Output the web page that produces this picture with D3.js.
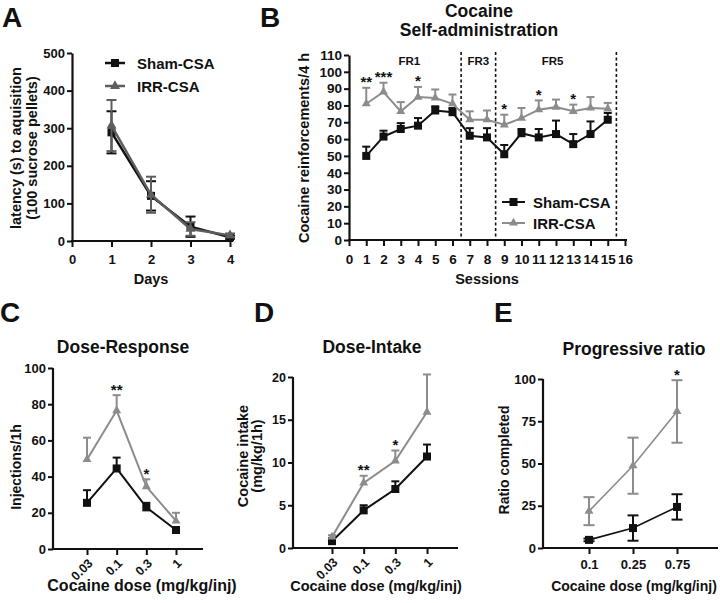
<!DOCTYPE html>
<html><head><meta charset="utf-8">
<script src="https://cdn.jsdelivr.net/npm/d3@7"></script>
<style>
body{margin:0;background:#fff;}
svg{display:block;}
</style></head><body>
<svg id="c" width="720" height="603"></svg>
<script>
// ---------------- DATA ----------------
// Panel A
const daysA = [1, 2, 3, 4];
const shamA = [289, 120, 38, 10];
const shamAsem = [56, 39, 27, 4];
const irrA = [307, 123, 32, 15];
const irrAsem = [68, 48, 18, 5];
const ticksAx = [0, 1, 2, 3, 4];
const ticksAy = [0, 100, 200, 300, 400, 500];

// Panel B
const sessionsB = [1, 2, 3, 4, 5, 6, 7, 8, 9, 10, 11, 12, 13, 14, 15];
const irrB = [81, 88, 76.5, 85, 84.5, 81, 71.5, 71.5, 68.5, 72.5, 77.5, 79, 76.5, 78.5, 78];
const irrBsem = [9.5, 5.5, 5.5, 6, 5, 5.5, 5, 5.5, 6, 6, 5.5, 4.5, 4, 6.5, 3.5];
const shamB = [50, 61.5, 66, 68, 77, 76, 62, 61, 51, 63.5, 61, 63, 57, 63, 71.5];
const shamBsem = [5.5, 3.5, 3.5, 4.5, 2.5, 2.5, 4.5, 5.5, 5.5, 2.5, 5, 8, 6, 7.5, 4];
const ticksBx = [0, 1, 2, 3, 4, 5, 6, 7, 8, 9, 10, 11, 12, 13, 14, 15, 16];
const ticksBy = [0, 10, 20, 30, 40, 50, 60, 70, 80, 90, 100, 110];
const phaseBounds = [6.5, 8.5, 15.5];
const phaseLabels = ["FR1", "FR3", "FR5"];
const phaseLabelAt = [3.5, 7.5, 11.8];
const starsBsession = [1, 2, 4, 9, 11, 13];
const starsBtext = ["**", "***", "*", "*", "*", "*"];

// Panel C
const dosesCD = ["0.03", "0.1", "0.3", "1"];
const irrC = [49.5, 76.5, 34.5, 15.5];
const irrCsem = [12, 8.5, 4, 4.5];
const shamC = [25.5, 44.5, 23, 10.5];
const shamCsem = [7, 6, 2.5, 1.5];
const ticksCy = [0, 20, 40, 60, 80, 100];
const starsC = ["", "**", "*", ""];

// Panel D
const irrD = [1.3, 7.6, 10.2, 15.9];
const irrDsem = [0.2, 0.85, 1.2, 4.4];
const shamD = [0.8, 4.4, 6.9, 10.7];
const shamDsem = [0.15, 0.6, 0.9, 1.4];
const ticksDy = [0, 5, 10, 15, 20];
const starsD = ["", "**", "*", ""];

// Panel E
const dosesE = ["0.1", "0.25", "0.75"];
const irrE = [21.8, 48.7, 80.8];
const irrEsem = [8.3, 16.6, 18.5];
const shamE = [4.8, 11.8, 24.3];
const shamEsem = [0.8, 7.5, 7.5];
const ticksEy = [0, 25, 50, 75, 100];
const starsE = ["", "", "*"];

// ---------------- DRAWING ----------------
const FONT = '"Liberation Sans", Arial, Helvetica, sans-serif';
const BLACK = "#111111";
const GRAY = "#8c8c8c";
const GRAY_A = "#5e5e5e";
const svg = d3.select("#c").attr("font-family", FONT);

function txt(g, x, y, s, size, o = {}) {
  const t = g.append("text").attr("x", x).attr("y", y).text(s)
    .attr("font-size", size).attr("font-weight", "bold").attr("fill", BLACK)
    .attr("font-family", FONT)
    .attr("text-anchor", o.anchor || "start");
  if (o.rotate) t.attr("transform", `rotate(${o.rotate},${x},${y})`);
  return t;
}

function styleAxis(g, fs) {
  g.attr("font-family", FONT).attr("font-size", fs).attr("font-weight", "bold");
  g.selectAll(".domain").attr("stroke", BLACK).attr("stroke-width", 2.2);
  g.selectAll(".tick line").attr("stroke", BLACK).attr("stroke-width", 2);
  g.selectAll(".tick text").attr("fill", BLACK);
}

function marker(g, x, y, type, size, color) {
  if (type === "square") {
    g.append("rect").attr("x", x - size / 2).attr("y", y - size / 2)
      .attr("width", size).attr("height", size).attr("fill", color);
  } else {
    const area = size * size * Math.sqrt(3) / 4;
    g.append("path").attr("d", d3.symbol(d3.symbolTriangle, area)())
      .attr("transform", `translate(${x},${y})`).attr("fill", color);
  }
}

function series(g, xs, ys, sems, xS, yS, o) {
  const pts = xs.map((x, i) => ({
    x: xS(x), y: yS(ys[i]),
    top: yS(ys[i] + sems[i]), bot: yS(Math.max(0, ys[i] - sems[i]))
  }));
  pts.forEach(p => {
    g.append("line").attr("x1", p.x).attr("x2", p.x)
      .attr("y1", p.top).attr("y2", o.both ? p.bot : p.y)
      .attr("stroke", o.color).attr("stroke-width", o.ew);
    g.append("line").attr("x1", p.x - o.cap / 2).attr("x2", p.x + o.cap / 2)
      .attr("y1", p.top).attr("y2", p.top)
      .attr("stroke", o.color).attr("stroke-width", o.ew);
    if (o.both) {
      g.append("line").attr("x1", p.x - o.cap / 2).attr("x2", p.x + o.cap / 2)
        .attr("y1", p.bot).attr("y2", p.bot)
        .attr("stroke", o.color).attr("stroke-width", o.ew);
    }
  });
  g.append("path").attr("d", d3.line().x(p => p.x).y(p => p.y)(pts))
    .attr("fill", "none").attr("stroke", o.color).attr("stroke-width", o.lw);
  pts.forEach(p => marker(g, p.x, p.y, o.marker, o.ms, o.color));
  return pts;
}

function stars(g, pts, labels) {
  pts.forEach((p, i) => {
    if (labels[i]) txt(g, p.x, p.top - 0.5, labels[i], 15, { anchor: "middle" });
  });
}

// ===== Panel A =====
{
  const g = svg.append("g");
  const x = d3.scaleLinear().domain([0, 4]).range([72, 230]);
  const y = d3.scaleLinear().domain([0, 500]).range([241, 53]);
  const ya = g.append("g").attr("transform", `translate(72,0)`)
    .call(d3.axisLeft(y).tickValues(ticksAy).tickFormat(d3.format("d")).tickSize(5).tickPadding(2).tickSizeOuter(0));
  styleAxis(ya, 13);
  const xa = g.append("g").attr("transform", `translate(0,241)`)
    .call(d3.axisBottom(x).tickValues(ticksAx).tickFormat(d3.format("d")).tickSize(6).tickPadding(8).tickSizeOuter(0));
  styleAxis(xa, 13);
  xa.select(".domain").attr("d", "M71,0H233");
  series(g, daysA, shamA, shamAsem, x, y, { color: BLACK, marker: "square", ms: 8, lw: 2.5, ew: 2, cap: 10, both: true });
  series(g, daysA, irrA, irrAsem, x, y, { color: GRAY_A, marker: "triangle", ms: 10, lw: 2.5, ew: 2, cap: 10, both: true });
  // legend
  g.append("line").attr("x1", 105).attr("x2", 125).attr("y1", 63).attr("y2", 63).attr("stroke", BLACK).attr("stroke-width", 2.5);
  marker(g, 115, 63, "square", 8, BLACK);
  txt(g, 137, 69, "Sham-CSA", 15);
  g.append("line").attr("x1", 105).attr("x2", 125).attr("y1", 86).attr("y2", 86).attr("stroke", GRAY_A).attr("stroke-width", 2.5);
  marker(g, 115, 86, "triangle", 10, GRAY_A);
  txt(g, 137, 92, "IRR-CSA", 15);
  // labels
  txt(g, 21, 148, "latency (s) to aquisition", 14.5, { anchor: "middle", rotate: -90 });
  txt(g, 37, 148, "(100 sucrose pellets)", 14.5, { anchor: "middle", rotate: -90 });
  txt(g, 151, 284, "Days", 14.5, { anchor: "middle" });
  txt(g, 2, 27, "A", 28);
}

// ===== Panel B =====
{
  const g = svg.append("g");
  const x = d3.scaleLinear().domain([0, 16]).range([349, 625]);
  const y = d3.scaleLinear().domain([0, 110]).range([240, 55]);
  phaseBounds.forEach(b => {
    g.append("line").attr("x1", x(b)).attr("x2", x(b)).attr("y1", 52).attr("y2", 240)
      .attr("stroke", BLACK).attr("stroke-width", 1.6).attr("stroke-dasharray", "3,2.5");
  });
  phaseLabels.forEach((l, i) => txt(g, x(phaseLabelAt[i]), 65, l, 11.5, { anchor: "middle" }));
  const ya = g.append("g").attr("transform", `translate(349,0)`)
    .call(d3.axisLeft(y).tickValues(ticksBy).tickSize(5).tickPadding(2).tickSizeOuter(0));
  styleAxis(ya, 13.5);
  const xa = g.append("g").attr("transform", `translate(0,240)`)
    .call(d3.axisBottom(x).tickValues(ticksBx).tickSize(6).tickPadding(8).tickSizeOuter(0));
  styleAxis(xa, 13.5);
  xa.select(".domain").attr("d", "M348,0H627");
  series(g, sessionsB, shamB, shamBsem, x, y, { color: BLACK, marker: "square", ms: 8, lw: 2, ew: 2, cap: 8, both: false });
  const ip = series(g, sessionsB, irrB, irrBsem, x, y, { color: GRAY, marker: "triangle", ms: 9, lw: 2, ew: 2, cap: 8, both: false });
  starsBsession.forEach((s, i) => {
    const p = ip[sessionsB.indexOf(s)];
    txt(g, p.x, p.top - 0.5, starsBtext[i], 15, { anchor: "middle" });
  });
  // legend
  g.append("line").attr("x1", 502).attr("x2", 525).attr("y1", 202).attr("y2", 202).attr("stroke", BLACK).attr("stroke-width", 2);
  marker(g, 513.5, 202, "square", 8, BLACK);
  txt(g, 533, 208, "Sham-CSA", 15);
  g.append("line").attr("x1", 502).attr("x2", 525).attr("y1", 223).attr("y2", 223).attr("stroke", GRAY).attr("stroke-width", 2);
  marker(g, 513.5, 223, "triangle", 9, GRAY);
  txt(g, 533, 229, "IRR-CSA", 15);
  // labels
  txt(g, 309, 148, "Cocaine reinforcements/4 h", 14.5, { anchor: "middle", rotate: -90 });
  txt(g, 487, 284, "Sessions", 14.5, { anchor: "middle" });
  txt(g, 479, 17, "Cocaine", 17.5, { anchor: "middle" });
  txt(g, 479, 36, "Self-administration", 17.5, { anchor: "middle" });
  txt(g, 260, 27, "B", 28);
}

// helper for dose panels
function dosePanel(cfg) {
  const g = svg.append("g");
  const x = d3.scalePoint().domain(cfg.cats).range([cfg.first, cfg.last]);
  const y = d3.scaleLinear().domain([0, cfg.ymax]).range([cfg.y0, cfg.y1]);
  const ya = g.append("g").attr("transform", `translate(${cfg.ax},0)`)
    .call(d3.axisLeft(y).tickValues(cfg.yticks).tickSize(5).tickPadding(2).tickSizeOuter(0));
  styleAxis(ya, cfg.fs);
  ya.select(".domain").attr("d", `M0,${cfg.y0 + 1}V${cfg.y1}`);
  const xa = g.append("g").attr("transform", `translate(0,${cfg.y0})`)
    .call(d3.axisBottom(x).tickSize(6).tickPadding(6).tickSizeOuter(0));
  styleAxis(xa, cfg.fs);
  xa.select(".domain").attr("d", `M${cfg.ax - 1},0H${cfg.xend}`);
  if (cfg.rot) {
    xa.selectAll(".tick text").attr("text-anchor", "end").attr("dy", null)
      .attr("x", 0).attr("y", 0).attr("font-size", 12.5)
      .attr("transform", "translate(6,15) rotate(-45)");
  }
  series(g, cfg.cats, cfg.sham, cfg.shamSem, x, y, { color: BLACK, marker: "square", ms: 8, lw: cfg.lw, ew: 2, cap: cfg.cap, both: cfg.both });
  const ip = series(g, cfg.cats, cfg.irr, cfg.irrSem, x, y, { color: GRAY, marker: "triangle", ms: 9, lw: cfg.lw, ew: 2, cap: cfg.cap, both: cfg.both });
  stars(g, ip, cfg.stars);
  txt(g, cfg.titleX, cfg.titleY, cfg.title, 17.5, { anchor: "middle" });
  txt(g, cfg.xtX, 591, "Cocaine dose (mg/kg/inj)", cfg.xtfs, { anchor: "middle" });
  cfg.ytitle.forEach((t, i) => txt(g, cfg.ytX[i], cfg.ytY, t, cfg.ytfs, { anchor: "middle", rotate: -90 }));
  txt(g, cfg.letterX, 322, cfg.letter, 28);
}

dosePanel({
  cats: dosesCD, irr: irrC, irrSem: irrCsem, sham: shamC, shamSem: shamCsem, stars: starsC,
  first: 87, last: 176, ax: 53, xend: 203, y0: 549, y1: 368, ymax: 100, yticks: ticksCy,
  fs: 13, rot: true, lw: 2, cap: 8, both: false,
  title: "Dose-Response", titleX: 123, titleY: 353, xtX: 142, xtfs: 16,
  ytitle: ["Injections/1h"], ytX: [21], ytY: 467, ytfs: 14, letter: "C", letterX: 0
});
dosePanel({
  cats: dosesCD, irr: irrD, irrSem: irrDsem, sham: shamD, shamSem: shamDsem, stars: starsD,
  first: 332, last: 427, ax: 293, xend: 458, y0: 548, y1: 377, ymax: 20, yticks: ticksDy,
  fs: 12.5, rot: true, lw: 2, cap: 8, both: false,
  title: "Dose-Intake", titleX: 372, titleY: 353, xtX: 376, xtfs: 14.5,
  ytitle: ["Cocaine intake", "(mg/kg/1h)"], ytX: [248, 262], ytY: 456, ytfs: 14.5, letter: "D", letterX: 254
});
dosePanel({
  cats: dosesE, irr: irrE, irrSem: irrEsem, sham: shamE, shamSem: shamEsem, stars: starsE,
  first: 589, last: 677, ax: 543, xend: 718, y0: 548, y1: 379, ymax: 100, yticks: ticksEy,
  fs: 13, rot: false, lw: 1.6, cap: 11, both: true,
  title: "Progressive ratio", titleX: 634, titleY: 355, xtX: 634, xtfs: 14,
  ytitle: ["Ratio completed"], ytX: [509], ytY: 460, ytfs: 14, letter: "E", letterX: 494
});
</script>
</body></html>
